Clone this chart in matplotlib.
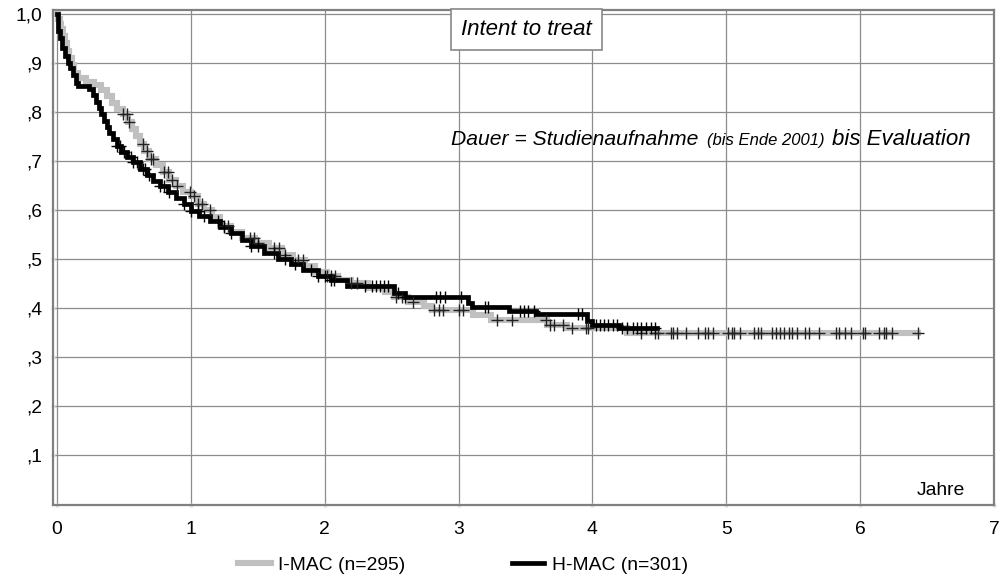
import numpy as np
import matplotlib
matplotlib.use("Agg")
import matplotlib.pyplot as plt
from matplotlib.offsetbox import TextArea, HPacker, AnchoredOffsetbox

plt.rcParams['font.family'] = ['Liberation Sans', 'DejaVu Sans']

# Kaplan-Meier step points (time in years, survival after the step)
imac_t = [0.01, 0.02, 0.03, 0.045, 0.06, 0.075, 0.09, 0.11, 0.13, 0.16, 0.22, 0.28,
          0.33, 0.37, 0.41, 0.45, 0.49, 0.53, 0.56, 0.59, 0.62, 0.65, 0.69, 0.74,
          0.79, 0.84, 0.89, 0.94, 1.0, 1.05, 1.1, 1.16, 1.22, 1.3, 1.38, 1.48, 1.58,
          1.68, 1.76, 1.85, 1.93, 2.02, 2.1, 2.2, 2.32, 2.45, 2.52, 2.62, 2.74, 2.8,
          3.11, 3.24, 3.66, 3.81, 4.26]
imac_s = [0.99, 0.98, 0.97, 0.955, 0.94, 0.925, 0.91, 0.895, 0.88, 0.87, 0.862, 0.855,
          0.845, 0.832, 0.818, 0.805, 0.795, 0.78, 0.765, 0.75, 0.735, 0.72, 0.705, 0.692,
          0.678, 0.662, 0.648, 0.636, 0.628, 0.612, 0.6, 0.585, 0.568, 0.556, 0.542, 0.532, 0.522,
          0.508, 0.498, 0.486, 0.474, 0.466, 0.458, 0.45, 0.44, 0.432, 0.423, 0.412, 0.404, 0.396,
          0.386, 0.375, 0.365, 0.359, 0.349]
imac_end = 6.43
imac_cens = [0.49, 0.52, 0.54, 0.64, 0.67, 0.7, 0.72, 0.8, 0.83, 0.86, 0.9, 0.99, 1.02,
             1.05, 1.08, 1.14, 1.25, 1.28, 1.44, 1.47, 1.5, 1.62, 1.66, 1.7, 1.8, 1.84,
             2.02, 2.05, 2.08, 2.2, 2.24, 2.53, 2.58, 2.66, 2.82, 2.85, 2.88, 3.0, 3.03,
             3.29, 3.4, 3.65, 3.68, 3.71, 3.78, 3.85, 3.95, 3.97, 4.36, 4.47, 4.49, 4.59,
             4.6, 4.63, 4.7, 4.79, 4.84, 4.86, 4.9, 5.01, 5.04, 5.06, 5.1, 5.21, 5.24,
             5.26, 5.34, 5.37, 5.4, 5.43, 5.47, 5.49, 5.53, 5.59, 5.62, 5.69, 5.82, 5.84,
             5.89, 5.93, 6.02, 6.04, 6.14, 6.18, 6.19, 6.24, 6.43]

hmac_t = [0.005, 0.01, 0.025, 0.04, 0.06, 0.08, 0.1, 0.12, 0.14, 0.16, 0.24, 0.27, 0.29,
          0.31, 0.33, 0.35, 0.37, 0.39, 0.42, 0.45, 0.48, 0.52, 0.57, 0.62, 0.67, 0.72,
          0.77, 0.83, 0.89, 0.95, 1.0, 1.06, 1.14, 1.22, 1.3, 1.38, 1.45, 1.55, 1.65,
          1.75, 1.84, 1.95, 2.05, 2.17, 2.52, 2.6, 3.07, 3.1, 3.38, 3.58, 3.96, 4.0, 4.2]
hmac_s = [0.98, 0.965, 0.95, 0.93, 0.915, 0.9, 0.89, 0.875, 0.86, 0.852, 0.847, 0.835, 0.82,
          0.808, 0.795, 0.782, 0.77, 0.758, 0.745, 0.73, 0.718, 0.708, 0.697, 0.684, 0.672, 0.66,
          0.648, 0.636, 0.624, 0.612, 0.598, 0.588, 0.578, 0.566, 0.552, 0.538, 0.526, 0.512, 0.5,
          0.49, 0.478, 0.466, 0.458, 0.444, 0.43, 0.423, 0.41, 0.402, 0.394, 0.388, 0.373, 0.366, 0.36]
hmac_end = 4.48
hmac_cens = [0.45, 0.47, 0.5, 0.55, 0.57, 0.6, 0.64, 0.66, 0.69, 0.77, 0.8, 0.84, 0.95, 1.0,
             1.05, 1.1, 1.2, 1.25, 1.3, 1.45, 1.5, 1.62, 1.7, 1.78, 1.9, 1.95, 2.0, 2.05,
             2.07, 2.3, 2.35, 2.38, 2.41, 2.44, 2.47, 2.55, 2.6, 2.83, 2.86, 2.9, 3.02,
             3.2, 3.22, 3.46, 3.49, 3.52, 3.56, 3.89, 3.92, 4.03, 4.06, 4.09, 4.12, 4.15,
             4.18, 4.22, 4.26, 4.3, 4.33, 4.36, 4.4, 4.44, 4.47]

x_ticks = [0, 1, 2, 3, 4, 5, 6, 7]
y_ticks = [0.1, 0.2, 0.3, 0.4, 0.5, 0.6, 0.7, 0.8, 0.9, 1.0]
y_tick_labels = [',1', ',2', ',3', ',4', ',5', ',6', ',7', ',8', ',9', '1,0']


def km_steps(times, surv, end):
    x = np.concatenate(([0.0], times, [end]))
    y = np.concatenate(([1.0], surv, [surv[-1]]))
    return x, y


def km_at(times, surv, t):
    idx = np.searchsorted(times, t, side='right') - 1
    s = np.asarray(surv)
    return np.where(idx >= 0, s[np.clip(idx, 0, None)], 1.0)


fig = plt.figure(figsize=(10.06, 5.78), dpi=100)
ax = fig.add_axes([53 / 1006, 1 - 505 / 578, 941 / 1006, 495 / 578])

gx, gy = km_steps(imac_t, imac_s, imac_end)
bx, by = km_steps(hmac_t, hmac_s, hmac_end)
ax.plot(gx, gy, drawstyle='steps-post', color='#c0c0c0', lw=4.4, zorder=3,
        label='I-MAC (n=295)', solid_joinstyle='miter')
ax.plot(bx, by, drawstyle='steps-post', color='black', lw=3.4, zorder=4,
        label='H-MAC (n=301)', solid_joinstyle='miter')
ax.plot(imac_cens, km_at(imac_t, imac_s, imac_cens), ls='none', marker='+',
        ms=8.5, mew=1.0, color='#222222', zorder=5)
ax.plot(hmac_cens, km_at(hmac_t, hmac_s, hmac_cens), ls='none', marker='+',
        ms=8.5, mew=1.0, color='black', zorder=5)

ax.set_xlim(-0.03, 6.97)
ax.set_ylim(-0.002, 1.008)
ax.set_xticks(x_ticks)
ax.set_yticks(y_ticks)
ax.set_yticklabels(y_tick_labels)
ax.grid(True, color='#8c8c8c', lw=0.9)
ax.set_axisbelow(True)
for sp in ax.spines.values():
    sp.set_color('#808080')
    sp.set_linewidth(1.6)
ax.tick_params(axis='both', length=3, width=2.5, color='#e0e0e0', labelsize=13.9,
               direction='inout')
ax.tick_params(axis='y', pad=6)
ax.tick_params(axis='x', pad=10)

ax.text(0.503, 0.96, 'Intent to treat', transform=ax.transAxes, ha='center',
        va='center', style='italic', fontsize=16, zorder=6,
        bbox=dict(boxstyle='square,pad=0.45', fc='white', ec='#888888', lw=1.2))

parts = [TextArea('Dauer = Studienaufnahme', textprops=dict(style='italic', fontsize=15.2)),
         TextArea('(bis Ende 2001)', textprops=dict(style='italic', fontsize=12)),
         TextArea('bis Evaluation', textprops=dict(style='italic', fontsize=16))]
box = HPacker(children=parts, align='baseline', pad=0, sep=6)
anch = AnchoredOffsetbox(loc='center', child=box, frameon=False,
                         bbox_to_anchor=(711 / 1006, 1 - 140 / 578),
                         bbox_transform=fig.transFigure, borderpad=0, pad=0)
fig.add_artist(anch)

ax.text(0.969, 0.03, 'Jahre', transform=ax.transAxes, ha='right', va='center',
        fontsize=13.9)

fig.legend(loc='center', bbox_to_anchor=(463 / 1006, 1 - 565 / 578), ncol=2,
           frameon=False, fontsize=13.9, handlelength=1.7, handletextpad=0.4,
           columnspacing=5.5)

fig.savefig('out.png', dpi=100)
